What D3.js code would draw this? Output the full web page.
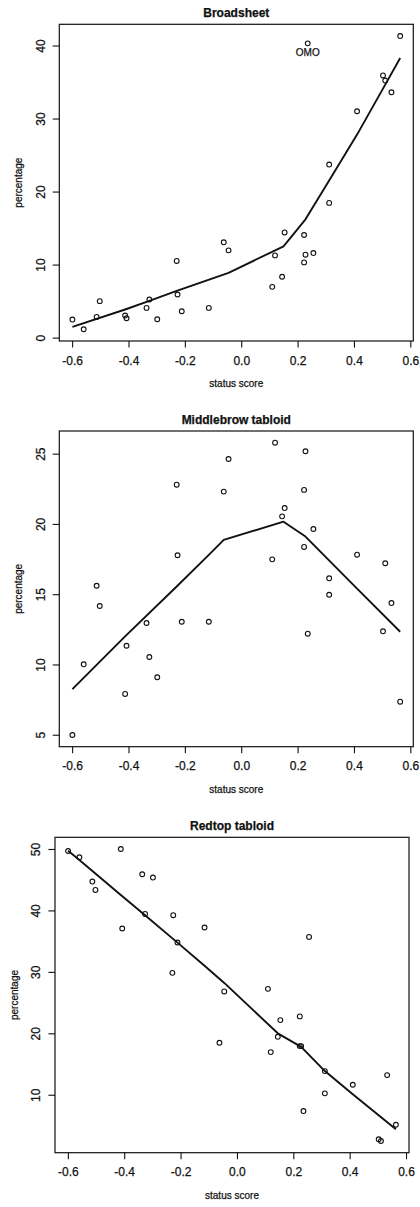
<!DOCTYPE html>
<html>
<head>
<meta charset="utf-8">
<script src="https://cdn.jsdelivr.net/npm/d3@7"></script>
<style>
  body { margin: 0; background: #fff; }
  text { font-family: "Liberation Sans", Arial, sans-serif; fill: #111; stroke: #111; stroke-width: 0.25px; }
</style>
</head>
<body>
<div id="chart"></div>
<script>
// status score of each group, shared by the three panels
var statusScore = [-0.599, -0.559, -0.513, -0.502, -0.412, -0.407, -0.336, -0.326, -0.298, -0.229,
                   -0.226, -0.211, -0.115, -0.062, -0.045, 0.110, 0.120, 0.145, 0.154, 0.223,
                   0.223, 0.228, 0.236, 0.256, 0.312, 0.312, 0.411, 0.503, 0.511, 0.533, 0.564];

// percentage reading each paper type
var broadsheet = [2.47, 1.14, 2.83, 4.99, 3.02, 2.65, 4.07, 5.22, 2.51, 10.5,
                  5.9, 3.61, 4.07, 13.05, 11.95, 6.95, 11.26, 8.33, 14.4, 14.05,
                  10.3, 11.35, 40.3, 11.58, 23.7, 18.45, 31.0, 35.9, 35.2, 33.6, 41.3];
var middlebrow = [4.98, 10.01, 15.6, 14.16, 7.9, 11.33, 12.95, 10.53, 9.09, 22.79,
                  17.77, 13.04, 13.04, 22.3, 24.62, 17.48, 25.78, 20.54, 21.13, 22.42,
                  18.36, 25.17, 12.19, 19.64, 16.13, 14.96, 17.81, 12.36, 17.2, 14.37, 7.35];
var redtop = [49.67, 48.65, 44.7, 43.33, 50.0, 37.06, 45.89, 39.43, 45.35, 29.84,
              39.22, 34.78, 37.22, 18.46, 26.81, 27.24, 16.94, 19.43, 22.15, 22.75,
              17.92, 17.92, 7.35, 35.69, 13.85, 10.23, 11.63, 2.75, 2.47, 13.2, 5.12];

// smoothed lines
var broadsheetFit = [[-0.599, 1.46], [-0.412, 3.85], [-0.326, 5.03], [-0.229, 6.4], [-0.045, 8.87],
                     [0.150, 12.5], [0.228, 16.2], [0.312, 21.5], [0.411, 27.8], [0.503, 34.1], [0.564, 38.3]];
var middlebrowFit = [[-0.599, 8.25], [-0.412, 12.0], [-0.229, 15.55], [-0.115, 17.8], [-0.062, 18.86],
                     [0.150, 20.16], [0.228, 19.1], [0.411, 15.4], [0.564, 12.33]];
var redtopFit = [[-0.599, 49.7], [-0.559, 48.2], [-0.412, 42.5], [-0.326, 39.2], [-0.212, 34.8],
                 [-0.115, 31.0], [-0.045, 28.2], [0.145, 20.0], [0.228, 17.8], [0.312, 13.85],
                 [0.411, 10.07], [0.564, 4.4]];

var xTicks = [-0.6, -0.4, -0.2, 0, 0.2, 0.4, 0.6];
var xTickLabels = ["-0.6", "-0.4", "-0.2", "0.0", "0.2", "0.4", "0.6"];

var titles = ["Broadsheet", "Middlebrow tabloid", "Redtop tabloid"];
var yTicks = [[0, 10, 20, 30, 40], [5, 10, 15, 20, 25], [10, 20, 30, 40, 50]];

// omo label
var label = { name: "OMO", x: 0.236, y: 40.3 };

// box of each panel
var boxes = [
  { left: 59.3, top: 24.3, width: 354, height: 316.7 },
  { left: 59.3, top: 431, width: 354, height: 315.7 },
  { left: 55, top: 837.3, width: 354, height: 315.4 }
];

var series = [broadsheet, middlebrow, redtop];
var fits = [broadsheetFit, middlebrowFit, redtopFit];

var svg = d3.select("#chart")
  .append("svg")
  .attr("width", 420)
  .attr("height", 1207);

// R style range: data extent plus 4%
function padded(arr) {
  var e = d3.extent(arr);
  var p = (e[1] - e[0]) * 0.04;
  return [e[0] - p, e[1] + p];
}

boxes.forEach(function(b, k) {
  var g = svg.append("g")
    .attr("transform", `translate(${b.left}, ${b.top})`);

  var x = d3.scaleLinear().domain(padded(statusScore)).range([0, b.width]);
  var y = d3.scaleLinear().domain(padded(series[k])).range([b.height, 0]);

  // title
  g.append("text")
    .attr("x", b.width / 2)
    .attr("y", -11.6)
    .attr("dy", "0.35em")
    .attr("text-anchor", "middle")
    .attr("font-size", 12)
    .attr("font-weight", "bold")
    .text(titles[k]);

  // axes
  var bottomAxis = d3.axisBottom(x)
    .tickValues(xTicks)
    .tickFormat(function(d, i) { return xTickLabels[i]; })
    .tickSize(6.6)
    .tickPadding(8.4)
    .tickSizeOuter(0);
  var xg = g.append("g")
    .attr("transform", `translate(0, ${b.height})`)
    .call(bottomAxis);
  xg.select(".domain").remove();
  xg.selectAll(".tick line").attr("stroke", "#111").attr("stroke-width", 1.1);
  xg.selectAll(".tick text")
    .attr("font-size", 12)
    .attr("font-family", null)
    .attr("fill", "#111");

  var leftAxis = d3.axisLeft(y)
    .tickValues(yTicks[k])
    .tickFormat(d3.format("d"))
    .tickSize(6.6)
    .tickSizeOuter(0);
  var yg = g.append("g").call(leftAxis);
  yg.select(".domain").remove();
  yg.selectAll(".tick line").attr("stroke", "#111").attr("stroke-width", 1.1);
  yg.selectAll(".tick text")
    .attr("transform", "rotate(-90)")
    .attr("x", 0)
    .attr("y", -19)
    .attr("dy", "0.35em")
    .attr("text-anchor", "middle")
    .attr("font-size", 12)
    .attr("font-family", null)
    .attr("fill", "#111");

  // box
  g.append("rect")
    .attr("width", b.width)
    .attr("height", b.height)
    .attr("fill", "none")
    .attr("stroke", "#111")
    .attr("stroke-width", 1.2);

  // axis titles
  g.append("text")
    .attr("x", b.width / 2)
    .attr("y", b.height + 43)
    .attr("dy", "0.35em")
    .attr("text-anchor", "middle")
    .attr("font-size", 10)
    .text("status score");

  g.append("text")
    .attr("transform", `translate(-41, ${b.height / 2}) rotate(-90)`)
    .attr("dy", "0.35em")
    .attr("text-anchor", "middle")
    .attr("font-size", 10)
    .text("percentage");

  // points
  g.selectAll("circle")
    .data(statusScore.map(function(s, i) { return [s, series[k][i]]; }))
    .enter()
    .append("circle")
    .attr("cx", d => x(d[0]))
    .attr("cy", d => y(d[1]))
    .attr("r", 2.4)
    .attr("fill", "none")
    .attr("stroke", "#111")
    .attr("stroke-width", 1.1);

  // smooth line
  var line = d3.line()
    .x(d => x(d[0]))
    .y(d => y(d[1]));
  g.append("path")
    .datum(fits[k])
    .attr("d", line)
    .attr("fill", "none")
    .attr("stroke", "#111")
    .attr("stroke-width", 1.9)
    .attr("stroke-linejoin", "round");

  if (k == 0) {
    g.append("text")
      .attr("x", x(label.x))
      .attr("y", y(label.y) + 9)
      .attr("dy", "0.35em")
      .attr("text-anchor", "middle")
      .attr("font-size", 10)
      .text(label.name);
  }
});
</script>
</body>
</html>
